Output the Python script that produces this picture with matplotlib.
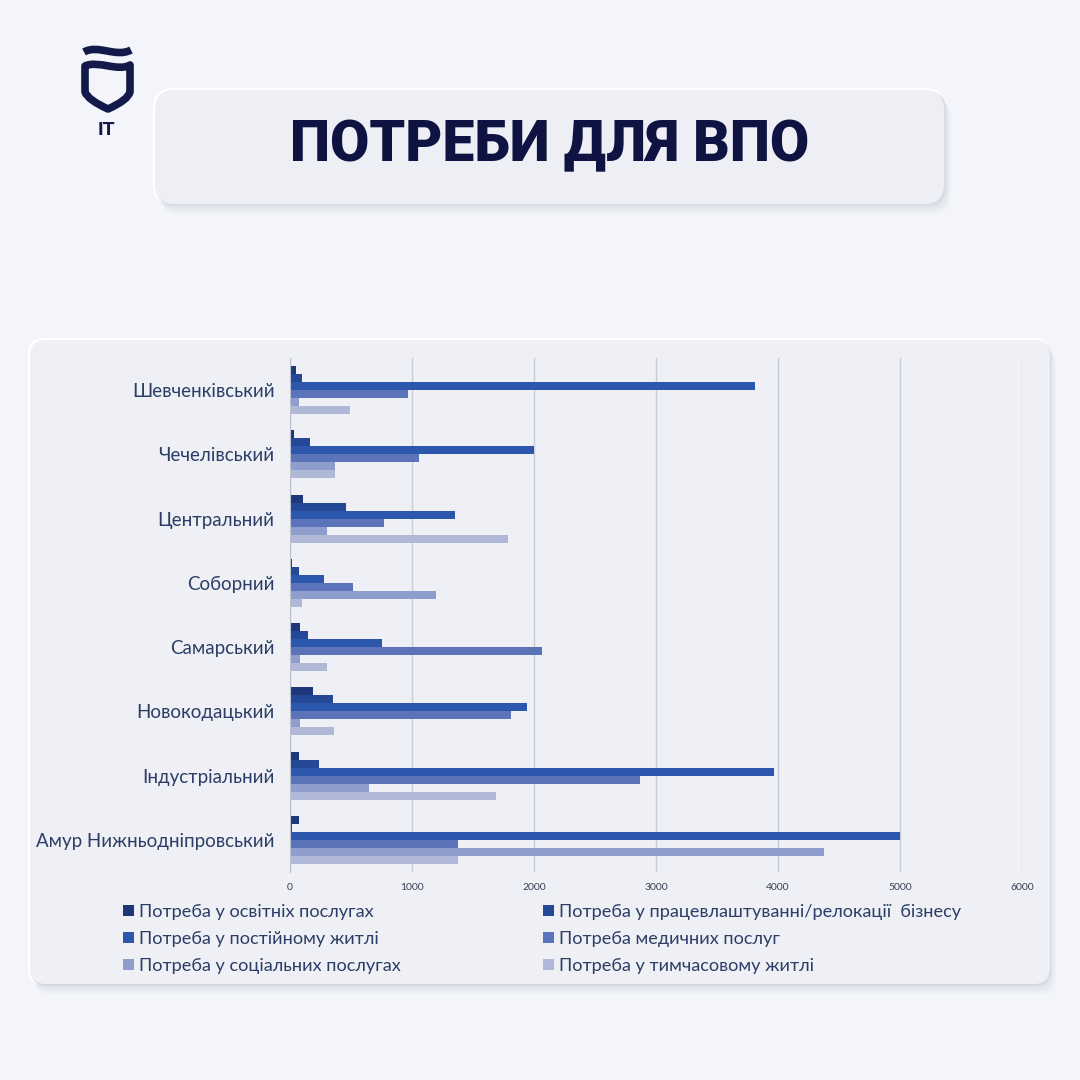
import matplotlib
matplotlib.use("Agg")
import matplotlib.pyplot as plt
import numpy as np
from matplotlib.patches import FancyBboxPatch, Patch
from matplotlib.path import Path
from matplotlib.patches import PathPatch

plt.rcParams['font.family'] = ['Lato', 'DejaVu Sans']

districts = ["Шевченківський", "Чечелівський", "Центральний", "Соборний",
             "Самарський", "Новокодацький", "Індустріальний", "Амур Нижньодніпровський"]

series_names = [
    "Потреба у освітніх послугах",
    "Потреба у працевлаштуванні/релокації  бізнесу",
    "Потреба у постійному житлі",
    "Потреба медичних послуг",
    "Потреба у соціальних послугах",
    "Потреба у тимчасовому житлі",
]

edu      = [50, 30, 105, 20, 85, 190, 70, 70]
business = [100, 160, 460, 75, 150, 355, 240, 15]
housing  = [3810, 2000, 1355, 280, 755, 1945, 3965, 5000]
medical  = [970, 1060, 770, 520, 2065, 1810, 2870, 1380]
social   = [70, 370, 300, 1200, 85, 85, 650, 4380]
temp     = [490, 370, 1790, 95, 305, 360, 1690, 1375]

series = [edu, business, housing, medical, social, temp]
colors = ["#1d3779", "#244796", "#2d56ad", "#5a73b9", "#8e9dcc", "#afb8d7"]
xticks = [0, 1000, 2000, 3000, 4000, 5000, 6000]

W = H = 1080
fig = plt.figure(figsize=(10.8, 10.8), dpi=100)
fig.patch.set_facecolor("#f4f5fa")

# decoration layer in pixel coordinates
bg = fig.add_axes([0, 0, 1, 1], zorder=0)
bg.set_xlim(0, W)
bg.set_ylim(H, 0)
bg.axis("off")

def rounded(x0, y0, x1, y1, r, fc, ec="none", lw=0, alpha=1.0, z=1):
    p = FancyBboxPatch((x0, y0), x1 - x0, y1 - y0,
                       boxstyle=f"round,pad=0,rounding_size={r}",
                       fc=fc, ec=ec, lw=lw, alpha=alpha, zorder=z)
    bg.add_patch(p)

# title box with soft shadow
for i in range(10, 0, -1):
    rounded(155 + i * 0.6, 90 + i * 1.0, 945 + i * 0.6, 205 + i * 1.0, 20,
            "#9aa0b8", alpha=0.025, z=1)
rounded(153, 88, 945, 205, 20, "#ffffff", z=2)
rounded(156, 91, 946, 206, 20, "#d9dbe5", z=2)
rounded(155, 90, 944, 204, 20, "#eeeff5", z=3)
bg.text(550, 146, "ПОТРЕБИ ДЛЯ ВПО", ha="center", va="center",
        fontsize=41, fontweight="black", color="#0e1342",
        family=["Roboto", "DejaVu Sans"], zorder=4)

# chart panel with shadow
for i in range(10, 0, -1):
    rounded(30 + i * 0.6, 340 + i * 1.0, 1050 + i * 0.6, 985 + i * 1.0, 16,
            "#9aa0b8", alpha=0.025, z=1)
rounded(28, 338, 1050, 985, 16, "#ffffff", z=2)
rounded(31, 341, 1051, 986, 16, "#d6d9e3", z=2)
rounded(30, 340, 1050, 984, 16, "#eef0f5", z=3)

# logo: shield
navy = "#131a4a"
wave = Path([(84, 52), (98, 44), (116, 58), (131, 50)],
            [Path.MOVETO, Path.CURVE4, Path.CURVE4, Path.CURVE4])
bg.add_patch(PathPatch(wave, fc="none", ec=navy, lw=5.5, capstyle="butt", zorder=5))
shield = Path([(85, 66), (98, 60), (118, 72), (130, 65),
               (130, 92), (128, 100), (108, 109),
               (88, 100), (85, 92), (85, 66)],
              [Path.MOVETO, Path.CURVE4, Path.CURVE4, Path.CURVE4,
               Path.LINETO, Path.CURVE3, Path.CURVE3,
               Path.CURVE3, Path.CURVE3, Path.CLOSEPOLY])
bg.add_patch(PathPatch(shield, fc="none", ec=navy, lw=5.5, joinstyle="round", zorder=5))
bg.text(106, 130, "IT", ha="center", va="center", fontsize=14, fontweight="bold",
        color=navy, family=["Roboto", "DejaVu Sans"], zorder=5)

# chart axes
left, right, top, bottom = 290, 1022, 358, 872
ax = fig.add_axes([left / W, 1 - bottom / H, (right - left) / W, (bottom - top) / H], zorder=2)
ax.set_facecolor("none")

n = len(series)
h = 0.125
y = np.arange(len(districts))
for j, (vals, c) in enumerate(zip(series, colors)):
    ax.barh(y + (j - (n - 1) / 2) * h, vals, height=h, color=c, zorder=3,
            label=series_names[j])

ax.set_ylim(len(districts) - 0.5, -0.5)
ax.set_xlim(0, 6000)
ax.set_xticks(xticks)
ax.set_xticklabels([str(t) for t in xticks], fontsize=7.5, color="#3a3f55")
ax.set_yticks(y)
ax.set_yticklabels(districts, fontsize=13.5, color="#2c3e66")
ax.tick_params(axis="both", length=0)
ax.tick_params(axis="x", pad=8)
ax.tick_params(axis="y", pad=11)
ax.xaxis.grid(True, color="#c9ccd8", lw=1, zorder=0)
for s in ["top", "right", "bottom"]:
    ax.spines[s].set_visible(False)
ax.spines["left"].set_color("#bfc3cf")
ax.spines["left"].set_zorder(4)

# legend in two columns, row-major order
handles = [Patch(fc=c, ec="none") for c in colors]
kw = dict(frameon=False, fontsize=13.1, handlelength=0.6, handleheight=0.6,
          handletextpad=0.3, labelspacing=0.6, labelcolor="#2c3e66",
          borderpad=0, borderaxespad=0)
leg1 = fig.legend([handles[0], handles[2], handles[4]],
                  [series_names[0], series_names[2], series_names[4]],
                  loc="upper left", bbox_to_anchor=(123 / W, 1 - 904 / H), **kw)
leg2 = fig.legend([handles[1], handles[3], handles[5]],
                  [series_names[1], series_names[3], series_names[5]],
                  loc="upper left", bbox_to_anchor=(543 / W, 1 - 904 / H), **kw)

fig.savefig("out.png", dpi=100, facecolor=fig.get_facecolor())
